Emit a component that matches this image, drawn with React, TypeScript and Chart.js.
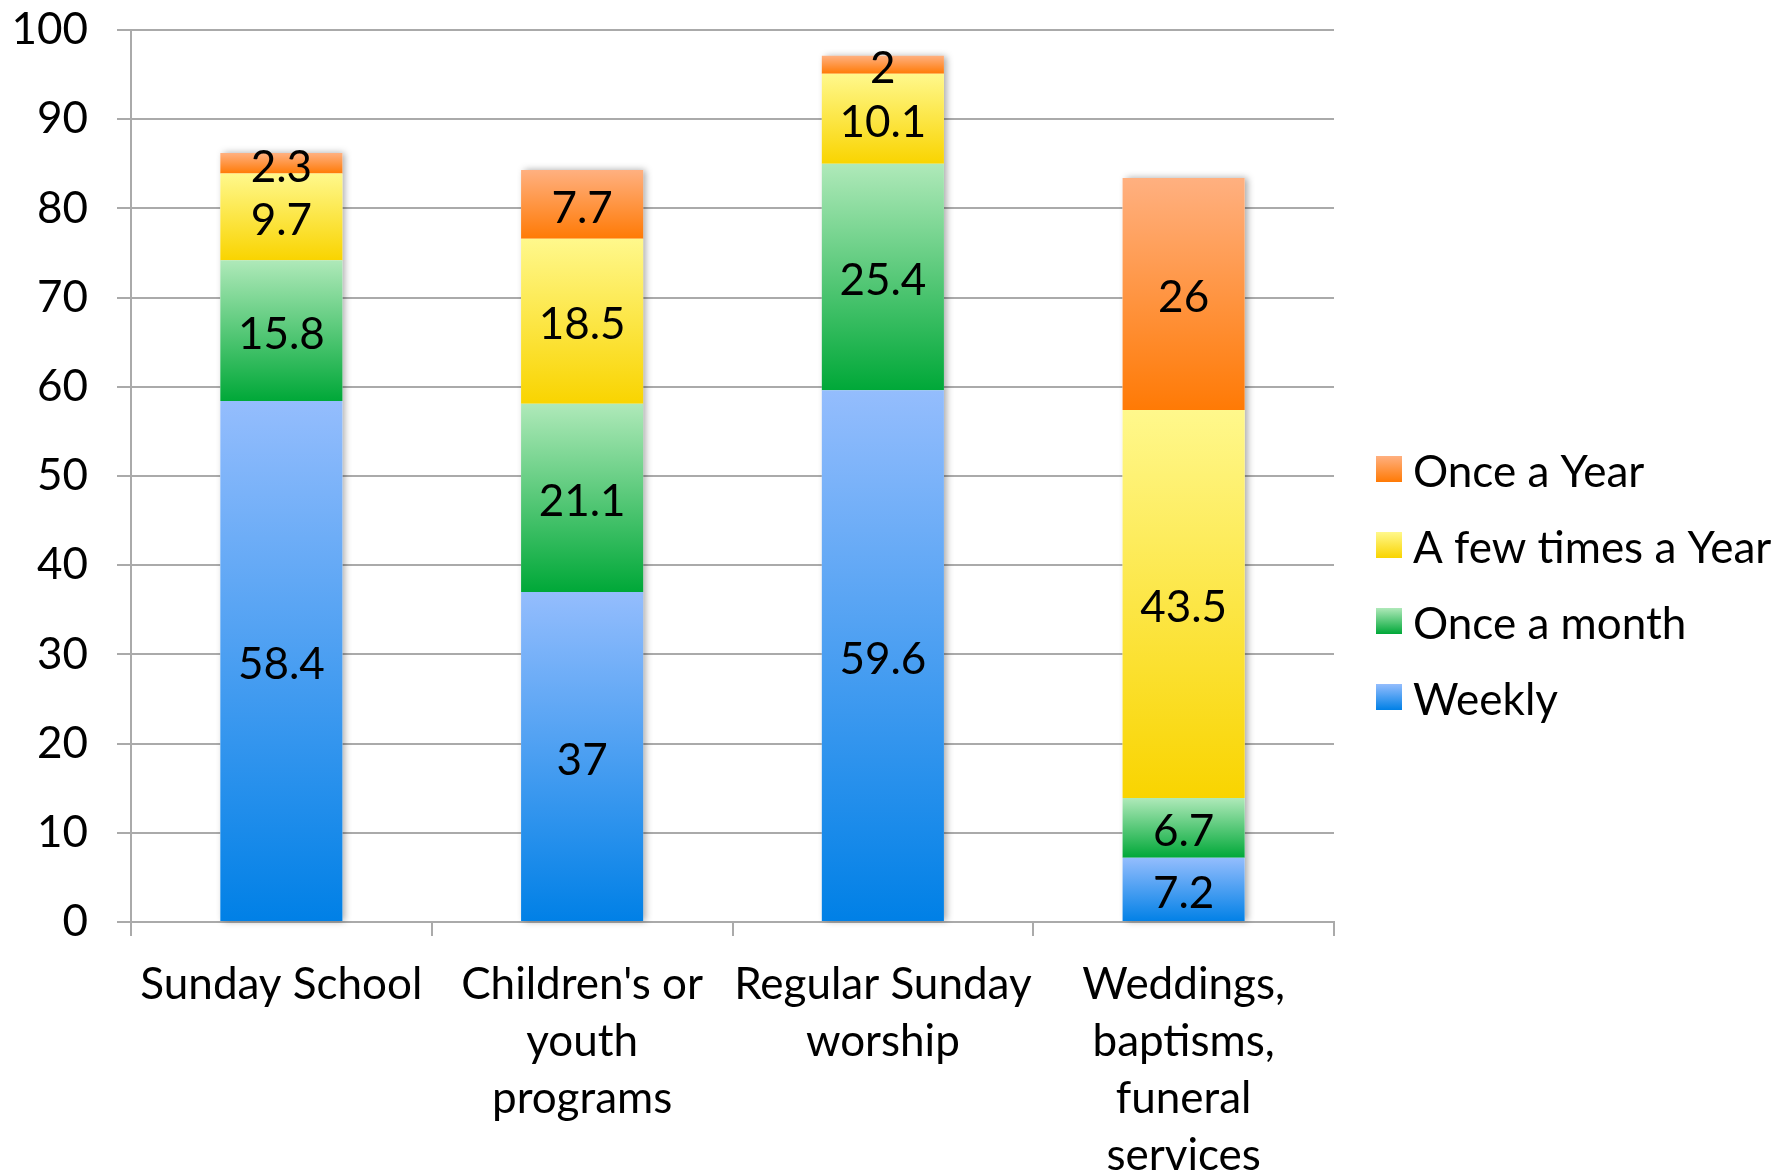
import React, { useEffect, useRef } from "react";
import { Chart, registerables } from "chart.js";

Chart.register(...registerables);

const categories: string[][] = [
  ["Sunday School"],
  ["Children's or", "youth", "programs"],
  ["Regular Sunday", "worship"],
  ["Weddings,", "baptisms,", "funeral", "services"],
];
const seriesNames = ["Weekly", "Once a month", "A few times a Year", "Once a Year"];
const weekly = [58.4, 37, 59.6, 7.2];
const onceMonth = [15.8, 21.1, 25.4, 6.7];
const fewTimes = [9.7, 18.5, 10.1, 43.5];
const onceYear = [2.3, 7.7, 2, 26];
const series = [weekly, onceMonth, fewTimes, onceYear];
const gradTop = ["#94bdfd", "#afe9b9", "#fff88c", "#ffb080"];
const gradBottom = ["#0080e6", "#00a838", "#f9d400", "#ff7a05"];
const legendOrder = [3, 2, 1, 0];

const FONT = "Lato";

export default function App() {
  const ref = useRef<HTMLCanvasElement | null>(null);
  useEffect(() => {
    const canvas = ref.current!;
    const segColor = (ctx: any) => {
      const chart = ctx.chart;
      const ds = ctx.datasetIndex;
      const i = ctx.dataIndex;
      const y = chart.scales?.y;
      if (!chart.chartArea || !y || i === undefined) return gradBottom[ds];
      let start = 0;
      for (let k = 0; k < ds; k++) start += series[k][i];
      const end = start + series[ds][i];
      const yTop = y.getPixelForValue(end);
      const yBot = y.getPixelForValue(start);
      if (!isFinite(yTop) || !isFinite(yBot) || yTop === yBot) return gradBottom[ds];
      const g = chart.ctx.createLinearGradient(0, yTop, 0, yBot);
      g.addColorStop(0, gradTop[ds]);
      g.addColorStop(1, gradBottom[ds]);
      return g;
    };

    const shadowPlugin = {
      id: "barShadow",
      beforeDatasetsDraw(chart: any) {
        const c = chart.ctx;
        const metaTop = chart.getDatasetMeta(series.length - 1);
        const metaBot = chart.getDatasetMeta(0);
        c.save();
        c.shadowColor = "rgba(0,0,0,0.35)";
        c.shadowBlur = 7;
        c.shadowOffsetX = 3;
        c.shadowOffsetY = 0;
        c.fillStyle = "#ffffff";
        metaTop.data.forEach((el: any, i: number) => {
          const b = metaBot.data[i] as any;
          const w = el.width;
          c.fillRect(el.x - w / 2, el.y, w, b.base - el.y);
        });
        c.restore();
      },
    };

    const labelPlugin = {
      id: "segLabels",
      afterDatasetsDraw(chart: any) {
        const c = chart.ctx;
        c.save();
        c.font = `44px ${FONT}`;
        c.fillStyle = "#000";
        c.textAlign = "center";
        c.textBaseline = "middle";
        series.forEach((_, ds) => {
          const meta = chart.getDatasetMeta(ds);
          meta.data.forEach((el: any, i: number) => {
            const v = series[ds][i];
            const cy = (el.y + el.base) / 2;
            c.fillText(String(v), el.x, cy + 4);
          });
        });
        c.restore();
      },
    };

    const legendPlugin = {
      id: "sideLegend",
      afterDraw(chart: any) {
        const c = chart.ctx;
        c.save();
        c.font = `44px ${FONT}`;
        c.fillStyle = "#000";
        c.textAlign = "left";
        c.textBaseline = "middle";
        const centers = [469, 545, 621, 697];
        legendOrder.forEach((ds, k) => {
          const cy = centers[k];
          const bx = 1376;
          const bs = 26;
          const g = c.createLinearGradient(0, cy - bs / 2, 0, cy + bs / 2);
          g.addColorStop(0, gradTop[ds]);
          g.addColorStop(1, gradBottom[ds]);
          c.fillStyle = g;
          c.fillRect(bx, cy - bs / 2, bs, bs);
          c.fillStyle = "#000";
          c.fillText(seriesNames[ds], 1413, cy + 4);
        });
        c.restore();
      },
    };

    const chart = new Chart(canvas, {
      type: "bar",
      data: {
        labels: categories,
        datasets: series.map((d, k) => ({
          label: seriesNames[k],
          data: d,
          backgroundColor: segColor,
          borderWidth: 0,
          categoryPercentage: 1,
          barPercentage: 0.406,
        })),
      },
      options: {
        animation: false,
        responsive: true,
        maintainAspectRatio: false,
        layout: { padding: { top: 30, right: 455, left: 0, bottom: 0 } },
        plugins: {
          legend: { display: false },
          tooltip: { enabled: false },
        },
        scales: {
          x: {
            stacked: true,
            afterFit: (s: any) => {
              s.height = 252;
            },
            border: { display: true, color: "#aaaaaa", width: 2 },
            grid: {
              offset: true,
              drawOnChartArea: false,
              drawTicks: true,
              tickLength: 14,
              color: "#aaaaaa",
              lineWidth: 2,
            },
            ticks: {
              color: "#000",
              font: { family: FONT, size: 44, lineHeight: 1.3 },
              padding: 20,
              maxRotation: 0,
              autoSkip: false,
            },
          },
          y: {
            stacked: true,
            min: 0,
            max: 100,
            afterFit: (s: any) => {
              s.width = 131;
              s.paddingTop = 0;
              s.paddingBottom = 0;
            },
            border: { display: true, color: "#aaaaaa", width: 2 },
            grid: {
              color: "#aaaaaa",
              lineWidth: 2,
              tickLength: 14,
              drawTicks: true,
            },
            ticks: {
              stepSize: 10,
              color: "#000",
              font: { family: FONT, size: 44 },
              padding: 29,
            },
          },
        },
      },
      plugins: [shadowPlugin, labelPlugin, legendPlugin],
    });
    return () => chart.destroy();
  }, []);

  return (
    <div style={{ position: "fixed", left: 0, top: 0, width: 1789, height: 1174, background: "#fff" }}>
      <canvas ref={ref} />
    </div>
  );
}
